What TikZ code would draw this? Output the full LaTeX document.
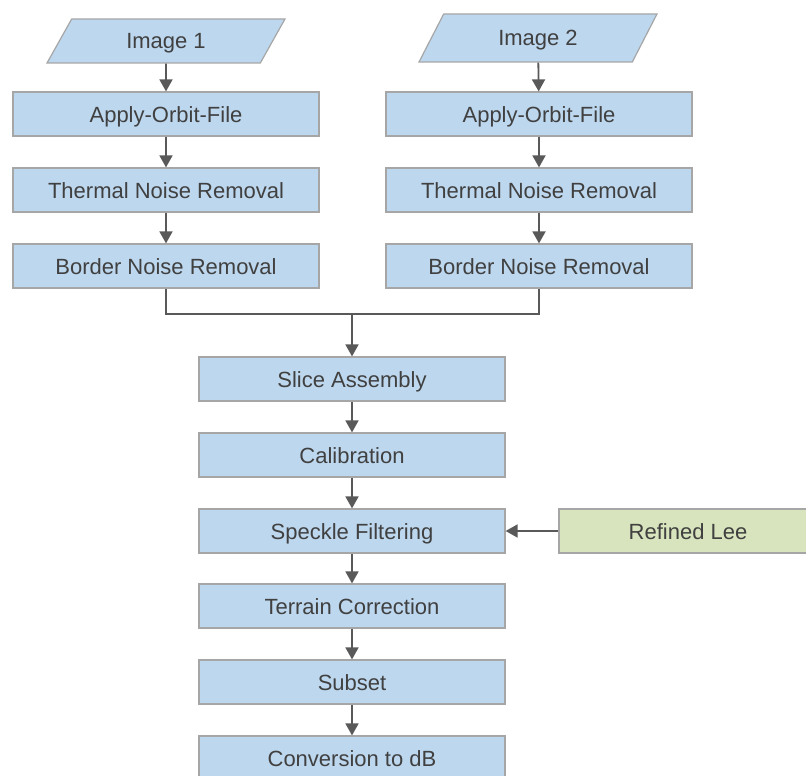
\documentclass[tikz,border=0pt]{standalone}
\usepackage{fontspec}
\setmainfont{Liberation Sans}
\usetikzlibrary{arrows.meta,shapes.geometric}
\definecolor{boxblue}{RGB}{189,215,238}
\definecolor{boxgreen}{RGB}{215,228,189}
\definecolor{linegray}{RGB}{89,89,89}
\definecolor{edgegray}{RGB}{166,166,166}
\definecolor{textgray}{RGB}{64,64,64}

\begin{document}
\begin{tikzpicture}[x=1pt,y=-1pt,
  every node/.style={font=\fontsize{22}{26}\selectfont,text=textgray,
    text height=16pt,text depth=0pt},
  process/.style={draw=edgegray,line width=1.2pt,fill=boxblue,
    minimum width=306pt,minimum height=44pt,inner sep=0pt},
  option/.style={process,fill=boxgreen,minimum width=258pt},
  input/.style={trapezium,trapezium left angle=57,trapezium right angle=123,
    trapezium stretches=true,draw=edgegray,line width=1.2pt,fill=boxblue,
    minimum width=240pt,minimum height=44pt,inner sep=0pt},
  link/.style={draw=linegray,line width=1.8pt},
  flow/.style={link,-{Triangle[width=13pt,length=12pt]}}]
  \clip (0,0) rectangle (806,776);
  \node[input] (img1) at (166,41) {Image 1};
  \node[input,minimum height=48pt] (img2) at (538,38) {Image 2};
  \node[process] (orb1) at (166,114) {Apply-Orbit-File};
  \node[process] (orb2) at (539,114) {Apply-Orbit-File};
  \node[process] (tnr1) at (166,190) {Thermal Noise Removal};
  \node[process] (tnr2) at (539,190) {Thermal Noise Removal};
  \node[process] (bnr1) at (166,266) {Border Noise Removal};
  \node[process] (bnr2) at (539,266) {Border Noise Removal};
  \coordinate (join) at (352,314);
  \node[process] (slice) at (352,379) {Slice Assembly};
  \node[process] (calib) at (352,455) {Calibration};
  \node[process] (speckle) at (352,531) {Speckle Filtering};
  \node[option] (lee) at (688,531) {Refined Lee};
  \node[process] (terrain) at (352,606) {Terrain Correction};
  \node[process] (subset) at (352,682) {Subset};
  \node[process] (dB) at (352,758) {Conversion to dB};

  \draw[flow] (img1) -- (orb1);
  \draw[flow] (orb1) -- (tnr1);
  \draw[flow] (tnr1) -- (bnr1);
  \draw[flow] (img2) -- (orb2);
  \draw[flow] (orb2) -- (tnr2);
  \draw[flow] (tnr2) -- (bnr2);
  \draw[link] (bnr1.south) |- (join) -| (bnr2.south);
  \draw[flow] (join) -- (slice);
  \draw[flow] (slice) -- (calib);
  \draw[flow] (calib) -- (speckle);
  \draw[flow] (lee) -- (speckle);
  \draw[flow] (speckle) -- (terrain);
  \draw[flow] (terrain) -- (subset);
  \draw[flow] (subset) -- (dB);
\end{tikzpicture}
\end{document}
